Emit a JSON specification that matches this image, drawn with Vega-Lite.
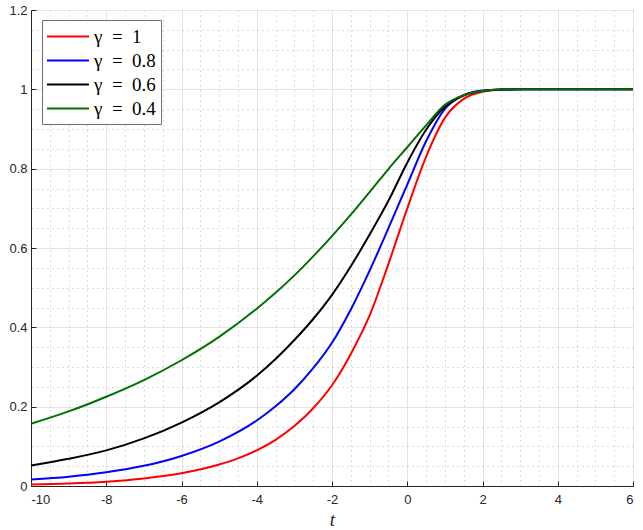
{
  "$schema": "https://vega.github.io/schema/vega-lite/v6.json",
  "width": 602,
  "height": 476,
  "autosize": "none",
  "padding": {"left": 31, "top": 10, "right": 10, "bottom": 44},
  "background": "white",
  "config": {
    "view": {"stroke": "#262626", "strokeWidth": 1},
    "font": "Liberation Sans"
  },
  "data": {
    "values": [
      {"g": "γ = 1", "t": -10, "v": 0.004},
      {"g": "γ = 1", "t": -9, "v": 0.0065},
      {"g": "γ = 1", "t": -8, "v": 0.011},
      {"g": "γ = 1", "t": -7, "v": 0.019},
      {"g": "γ = 1", "t": -6, "v": 0.032},
      {"g": "γ = 1", "t": -5, "v": 0.054},
      {"g": "γ = 1", "t": -4.5, "v": 0.0696},
      {"g": "γ = 1", "t": -4, "v": 0.09},
      {"g": "γ = 1", "t": -3.5, "v": 0.1165},
      {"g": "γ = 1", "t": -3, "v": 0.151},
      {"g": "γ = 1", "t": -2.5, "v": 0.196},
      {"g": "γ = 1", "t": -2, "v": 0.254},
      {"g": "γ = 1", "t": -1.5, "v": 0.333},
      {"g": "γ = 1", "t": -1, "v": 0.43},
      {"g": "γ = 1", "t": -0.5, "v": 0.56},
      {"g": "γ = 1", "t": 0, "v": 0.7},
      {"g": "γ = 1", "t": 0.5, "v": 0.83},
      {"g": "γ = 1", "t": 1, "v": 0.928},
      {"g": "γ = 1", "t": 1.5, "v": 0.976},
      {"g": "γ = 1", "t": 2, "v": 0.994},
      {"g": "γ = 1", "t": 2.5, "v": 0.999},
      {"g": "γ = 1", "t": 3, "v": 1},
      {"g": "γ = 1", "t": 4, "v": 1},
      {"g": "γ = 1", "t": 5, "v": 1},
      {"g": "γ = 1", "t": 6, "v": 1},
      {"g": "γ = 0.8", "t": -10, "v": 0.0161},
      {"g": "γ = 0.8", "t": -9, "v": 0.0235},
      {"g": "γ = 0.8", "t": -8, "v": 0.0344},
      {"g": "γ = 0.8", "t": -7, "v": 0.0508},
      {"g": "γ = 0.8", "t": -6, "v": 0.0758},
      {"g": "γ = 0.8", "t": -5, "v": 0.112},
      {"g": "γ = 0.8", "t": -4, "v": 0.165},
      {"g": "γ = 0.8", "t": -3.5, "v": 0.201},
      {"g": "γ = 0.8", "t": -3, "v": 0.244},
      {"g": "γ = 0.8", "t": -2.5, "v": 0.297},
      {"g": "γ = 0.8", "t": -2, "v": 0.361},
      {"g": "γ = 0.8", "t": -1.5, "v": 0.445},
      {"g": "γ = 0.8", "t": -1, "v": 0.543},
      {"g": "γ = 0.8", "t": -0.5, "v": 0.65},
      {"g": "γ = 0.8", "t": 0, "v": 0.76},
      {"g": "γ = 0.8", "t": 0.5, "v": 0.869},
      {"g": "γ = 0.8", "t": 1, "v": 0.951},
      {"g": "γ = 0.8", "t": 1.5, "v": 0.985},
      {"g": "γ = 0.8", "t": 2, "v": 0.997},
      {"g": "γ = 0.8", "t": 2.5, "v": 0.9995},
      {"g": "γ = 0.8", "t": 3, "v": 1},
      {"g": "γ = 0.8", "t": 4, "v": 1},
      {"g": "γ = 0.8", "t": 5, "v": 1},
      {"g": "γ = 0.8", "t": 6, "v": 1},
      {"g": "γ = 0.6", "t": -10, "v": 0.0518},
      {"g": "γ = 0.6", "t": -9, "v": 0.0686},
      {"g": "γ = 0.6", "t": -8, "v": 0.0898},
      {"g": "γ = 0.6", "t": -7, "v": 0.12},
      {"g": "γ = 0.6", "t": -6, "v": 0.16},
      {"g": "γ = 0.6", "t": -5, "v": 0.211},
      {"g": "γ = 0.6", "t": -4, "v": 0.278},
      {"g": "γ = 0.6", "t": -3.5, "v": 0.32},
      {"g": "γ = 0.6", "t": -3, "v": 0.368},
      {"g": "γ = 0.6", "t": -2.5, "v": 0.421},
      {"g": "γ = 0.6", "t": -2, "v": 0.482},
      {"g": "γ = 0.6", "t": -1.5, "v": 0.554},
      {"g": "γ = 0.6", "t": -1, "v": 0.634},
      {"g": "γ = 0.6", "t": -0.5, "v": 0.719},
      {"g": "γ = 0.6", "t": 0, "v": 0.815},
      {"g": "γ = 0.6", "t": 0.5, "v": 0.898},
      {"g": "γ = 0.6", "t": 1, "v": 0.956},
      {"g": "γ = 0.6", "t": 1.5, "v": 0.985},
      {"g": "γ = 0.6", "t": 2, "v": 0.996},
      {"g": "γ = 0.6", "t": 2.5, "v": 0.9995},
      {"g": "γ = 0.6", "t": 3, "v": 1},
      {"g": "γ = 0.6", "t": 4, "v": 1},
      {"g": "γ = 0.6", "t": 5, "v": 1},
      {"g": "γ = 0.6", "t": 6, "v": 1},
      {"g": "γ = 0.4", "t": -10, "v": 0.157},
      {"g": "γ = 0.4", "t": -9, "v": 0.188},
      {"g": "γ = 0.4", "t": -8, "v": 0.225},
      {"g": "γ = 0.4", "t": -7, "v": 0.267},
      {"g": "γ = 0.4", "t": -6, "v": 0.317},
      {"g": "γ = 0.4", "t": -5, "v": 0.376},
      {"g": "γ = 0.4", "t": -4, "v": 0.447},
      {"g": "γ = 0.4", "t": -3.5, "v": 0.487},
      {"g": "γ = 0.4", "t": -3, "v": 0.531},
      {"g": "γ = 0.4", "t": -2.5, "v": 0.579},
      {"g": "γ = 0.4", "t": -2, "v": 0.63},
      {"g": "γ = 0.4", "t": -1.5, "v": 0.684},
      {"g": "γ = 0.4", "t": -1, "v": 0.741},
      {"g": "γ = 0.4", "t": -0.5, "v": 0.799},
      {"g": "γ = 0.4", "t": 0, "v": 0.854},
      {"g": "γ = 0.4", "t": 0.5, "v": 0.909},
      {"g": "γ = 0.4", "t": 1, "v": 0.961},
      {"g": "γ = 0.4", "t": 1.5, "v": 0.985},
      {"g": "γ = 0.4", "t": 2, "v": 0.996},
      {"g": "γ = 0.4", "t": 2.5, "v": 0.9995},
      {"g": "γ = 0.4", "t": 3, "v": 1},
      {"g": "γ = 0.4", "t": 4, "v": 1},
      {"g": "γ = 0.4", "t": 5, "v": 1},
      {"g": "γ = 0.4", "t": 6, "v": 1}
    ]
  },
  "layer": [
    {
      "mark": {"type": "line", "opacity": 0},
      "encoding": {
        "x": {
          "field": "t", "type": "quantitative",
          "scale": {"domain": [-10, 6], "nice": false, "zero": false},
          "axis": {
            "orient": "top", "values": [-9.5, -9, -8.5, -7.5, -7, -6.5, -5.5, -5, -4.5, -3.5, -3, -2.5, -1.5, -1, -0.5, 0.5, 1, 1.5, 2.5, 3, 3.5, 4.5, 5, 5.5],
            "labels": false, "ticks": false, "domain": false, "title": null,
            "grid": true, "gridColor": "#b8b8b8", "gridDash": [1, 4], "gridWidth": 1
          }
        },
        "y": {
          "field": "v", "type": "quantitative",
          "scale": {"domain": [0, 1.2], "nice": false, "zero": false},
          "axis": {
            "orient": "right", "values": [0.05, 0.1, 0.15, 0.25, 0.3, 0.35, 0.45, 0.5, 0.55, 0.65, 0.7, 0.75, 0.85, 0.9, 0.95, 1.05, 1.1, 1.15],
            "labels": false, "ticks": false, "domain": false, "title": null,
            "grid": true, "gridColor": "#b8b8b8", "gridDash": [1, 4], "gridWidth": 1
          }
        },
        "detail": {"field": "g"}
      }
    },
    {
      "mark": {"type": "line", "strokeWidth": 2, "interpolate": "monotone"},
      "encoding": {
        "x": {
          "field": "t", "type": "quantitative",
          "axis": {
            "orient": "bottom", "values": [-10, -8, -6, -4, -2, 0, 2, 4, 6],
            "labelExpr": "datum.value + ''",
            "labelFont": "Liberation Sans", "labelFontSize": 13, "labelColor": "#262626",
            "labelPadding": 12,
            "tickSize": -5, "tickColor": "#262626", "domainColor": "#262626",
            "grid": true, "gridColor": "#e3e3e3", "gridWidth": 1,
            "title": "t", "titleFont": "Liberation Serif", "titleFontStyle": "italic",
            "titleFontWeight": "normal", "titleFontSize": 19, "titleColor": "#262626", "titlePadding": 4
          }
        },
        "y": {
          "field": "v", "type": "quantitative",
          "axis": {
            "orient": "left", "values": [0, 0.2, 0.4, 0.6, 0.8, 1, 1.2],
            "labelExpr": "datum.value + ''",
            "labelFont": "Liberation Sans", "labelFontSize": 13, "labelColor": "#262626",
            "labelPadding": 9,
            "tickSize": -5, "tickColor": "#262626", "domainColor": "#262626",
            "grid": true, "gridColor": "#e3e3e3", "gridWidth": 1,
            "title": null
          }
        },
        "color": {
          "field": "g", "type": "nominal",
          "scale": {"domain": ["γ = 1", "γ = 0.8", "γ = 0.6", "γ = 0.4"], "range": ["#ff0000", "#0000ff", "#000000", "#007000"]},
          "legend": {
            "orient": "none", "legendX": 11, "legendY": 10, "title": null,
            "symbolType": "M-1.1,0H2.9", "symbolSize": 441, "symbolStrokeWidth": 2,
            "labelFont": "Liberation Serif", "labelFontSize": 19, "labelColor": "#000000",
            "labelExpr": "replace(datum.label, / = /, '\u2002=\u2002')",
            "labelOffset": 24, "rowPadding": 2, "padding": 5,
            "fillColor": "white", "strokeColor": "#6e6e6e", "cornerRadius": 0
          }
        }
      }
    }
  ],
  "resolve": {"axis": {"x": "independent", "y": "independent"}}
}
